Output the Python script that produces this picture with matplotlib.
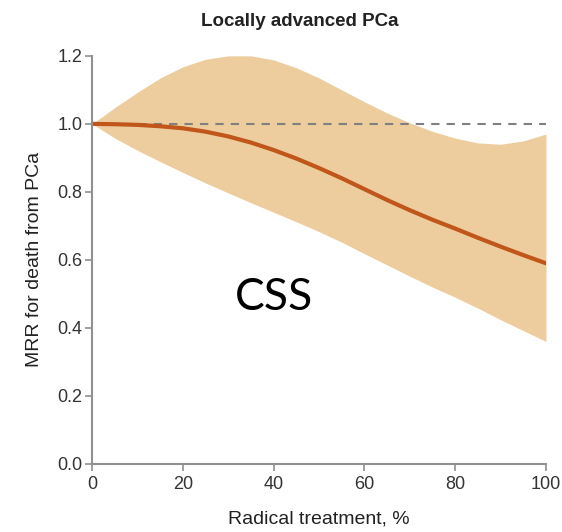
import matplotlib
matplotlib.use("Agg")
import matplotlib.pyplot as plt
import numpy as np

# values
radical_pct = [0, 5, 10, 15, 20, 25, 30, 35, 40, 45, 50, 55, 60, 65, 70, 75, 80, 85, 90, 95, 100]
mrr = [1.0, 0.999, 0.997, 0.993, 0.987, 0.977, 0.963, 0.945, 0.923, 0.898, 0.87,
       0.84, 0.808, 0.776, 0.746, 0.718, 0.692, 0.665, 0.639, 0.614, 0.59]
ci_upper = [1.0, 1.048, 1.093, 1.135, 1.168, 1.19, 1.2, 1.2, 1.188, 1.165, 1.135,
            1.1, 1.065, 1.032, 1.003, 0.978, 0.958, 0.944, 0.94, 0.95, 0.97]
ci_lower = [1.0, 0.958, 0.922, 0.889, 0.857, 0.826, 0.797, 0.768, 0.74, 0.712, 0.683,
            0.652, 0.618, 0.585, 0.552, 0.52, 0.49, 0.458, 0.424, 0.392, 0.36]
x_ticks = [0, 20, 40, 60, 80, 100]
y_ticks = [0.0, 0.2, 0.4, 0.6, 0.8, 1.0, 1.2]

plt.rcParams['font.family'] = ['Liberation Sans', 'DejaVu Sans']

fig = plt.figure(figsize=(5.62, 5.32), dpi=100)
ax = fig.add_axes([0.164, 0.128, 0.8075, 0.767])

ax.fill_between(radical_pct, ci_lower, ci_upper, color='#EDCD9E', linewidth=0)
# reference line at MRR = 1
ax.plot([radical_pct[0], radical_pct[-1]], [1.0, 1.0], color='#808080', lw=1.5,
        dashes=(4, 3.4))
ax.plot(radical_pct, mrr, color='#C0561A', lw=3, solid_capstyle='round',
        solid_joinstyle='round')

ax.set_xlim(0, 100)
ax.set_ylim(0, 1.2)
ax.set_xticks(x_ticks)
ax.set_yticks(y_ticks)
ax.set_yticklabels(['%.1f' % v for v in y_ticks])

for s in ['top', 'right']:
    ax.spines[s].set_visible(False)
for s in ['left', 'bottom']:
    ax.spines[s].set_color('#909090')
    ax.spines[s].set_linewidth(1.5)
ax.tick_params(colors='#909090', labelcolor='#333333', labelsize=13,
               length=5, width=1.2)
ax.tick_params(axis='x', pad=4)
ax.tick_params(axis='y', pad=2)

ax.set_xlabel('Radical treatment, %', fontsize=14, color='#222222', labelpad=12)
ax.set_ylabel('MRR for death from PCa', fontsize=14, color='#222222', labelpad=10)
fig.text(0.534, 0.960, 'Locally advanced PCa', fontsize=13.5, fontweight='bold',
         color='#222222', ha='center', va='center')

ax.text(40, 0.49, 'CSS', fontsize=32, ha='center', va='center', color='black',
        family=['Lato', 'Liberation Sans'])

fig.savefig('out.png', dpi=100)
